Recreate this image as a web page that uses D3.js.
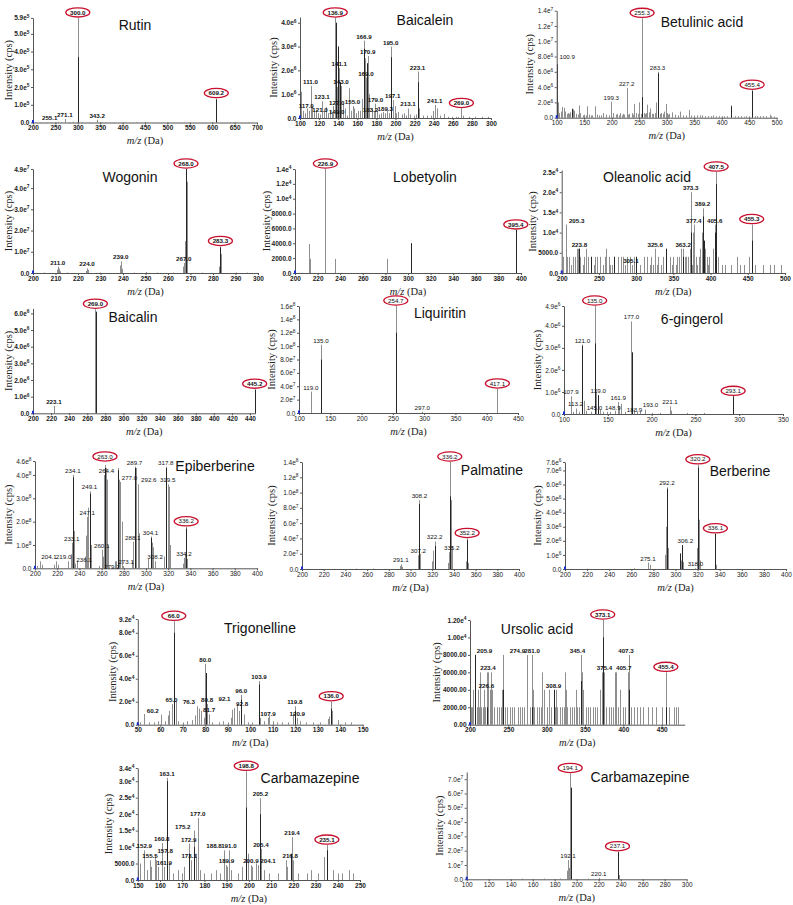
<!DOCTYPE html>
<html><head><meta charset="utf-8">
<script src="https://cdn.jsdelivr.net/npm/d3@7"></script>
<style>body{margin:0;background:#fff}svg{display:block}</style>
</head><body><svg id="c" width="793" height="905"></svg>
<script>
// ---------------- DATA ----------------
// Rutin (unit 1)
const rutinMz  = [205,215,230,240,255.1,262,271.1,280,290,300.0,310,325,343.2,360,380,405,430,455,480,520,560,609.2,640,680];
const rutinInt = [2000,1500,2000,1500,4000,2000,20000,3000,3000,590000,3000,2000,15000,2000,1500,2500,2000,1500,1500,1000,1000,135000,1000,1000];
const rutinDarkMz = [300.3,609.2];
const rutinDarkInt = [370000,130000];
const rutinLabels = [255.1,271.1,300.0,343.2,609.2];
const rutinCircled = [300.0,609.2];
const rutinXTicks = [200,250,300,350,400,450,500,550,600,650,700];
const rutinYTicks = [0,1e5,2e5,3e5,4e5,5e5,5.9e5];

// Baicalein (unit 1e6)
const baicaleinMz  = [100.9,103,105,107,109,111.0,113,115,117.0,119,121.0,123.1,125,127.0,129,131,133,135,136.9,138.0,139.0,141.1,143.0,145,147,149.0,151,153,155.0,157,159,161,163,165,166.9,168,169.0,170.9,172,175,177,179.0,181,183.2,185,187,189.3,191,193,195.0,197.1,199,201,203,207,209,211,213.1,215,219,221,223.1,225,229,233,237,239,241.1,243,247,251,255,259,263,265,269.0,271,277,283,291,297];
const baicaleinInt = [1.1,0.3,0.2,0.4,0.3,1.35,0.5,0.3,0.35,0.2,0.15,0.7,0.3,0.45,0.2,0.3,0.25,0.5,4.2,3.6,1.3,2.1,1.35,0.6,0.4,0.1,1.25,0.3,0.5,0.4,0.2,0.3,0.3,0.8,3.25,2.5,1.7,2.6,1.0,0.4,0.3,0.6,0.3,0.15,0.2,0.25,0.2,0.3,0.2,3.0,0.75,0.5,0.2,0.25,0.15,0.2,0.1,0.4,0.15,0.1,0.15,1.95,0.4,0.1,0.1,0.1,0.3,0.55,0.4,0.1,0.17,0.05,0.05,0.05,0.05,0.4,0.1,0.05,0.05,0.05,0.05];
const baicaleinDarkMz = [137.5,139.5,141.5,167.3,170.5,195.5,223.3];
const baicaleinDarkInt = [4.0,3.0,1.5,2.9,2.3,2.55,1.5];
const baicaleinLabels = [111.0,117.0,121.0,123.1,127.0,136.9,141.1,143.0,149.0,155.0,166.9,169.0,170.9,179.0,183.2,189.3,195.0,197.1,213.1,223.1,241.1,269.0];
const baicaleinCircled = [136.9,269.0];
const baicaleinXTicks = [100,120,140,160,180,200,220,240,260,280,300];
const baicaleinYTicks = [0,1e6,2e6,3e6,4e6];

// Betulinic acid (unit 1e6)
const betulinicMz  = [100.9,102,105,108,110,113,115,118,120,123,125,128,129,131,135,138,141,143,147,150,153,155,158,162,165,170,173,177,180,185,190,195,199.3,203,207,210,213,215,218,220,223,227.2,230,232,236,239,241,245,248,250,253,255.3,258,260,263,265,268,270,273,275,278,280,281,283.3,285,288,290,293,295,298,300,303,305,310,315,320,325,330,335,340,345,350,355,360,365,370,375,380,385,390,395,400,405,410,417,425,430,435,440,445,450,455.4,460,465,470,475,480,487,490,495];
const betulinicInt = [7.0,2.0,0.6,0.8,1.4,1.3,0.8,0.5,0.6,0.5,0.7,1.2,1.1,0.9,0.5,0.4,1.6,0.6,0.3,0.4,0.3,1.5,0.4,0.3,0.3,1.5,0.4,0.3,0.3,0.6,0.4,0.3,2.1,0.6,0.4,0.5,0.3,0.6,0.3,0.5,0.4,3.9,0.4,0.5,0.6,0.4,1.8,0.6,0.5,2.0,0.5,13.0,0.6,0.5,0.6,1.7,0.7,1.2,0.5,0.5,0.6,1.5,2.0,6.0,1.0,0.5,0.6,0.5,0.8,1.8,0.6,0.4,0.5,0.7,0.4,0.3,0.8,0.3,0.3,1.0,0.3,0.3,0.3,0.3,0.3,0.2,0.2,0.2,0.3,0.2,0.2,0.2,0.2,0.2,1.6,0.2,0.2,0.2,0.15,0.2,0.2,3.6,0.2,0.2,0.2,0.2,0.2,0.4,0.2,0.15];
const betulinicDarkMz = [100.9,128,255.8,283.3,417,455.4];
const betulinicDarkInt = [7.0,1.1,2.7,5.8,1.5,3.5];
const betulinicLabels = [100.9,199.3,227.2,255.3,283.3,455.4];
const betulinicCircled = [255.3,455.4];
const betulinicXTicks = [100,150,200,250,300,350,400,450,500];
const betulinicYTicks = [0,2e6,4e6,6e6,8e6,1e7,1.2e7,1.4e7];

// Wogonin (unit 1e7)
const wogoninMz  = [205,210.6,211.0,211.4,212,215,223.6,224.0,224.4,230,238.8,239.0,239.4,245,250,255,262,266.8,267.0,267.6,268.0,268.3,268.6,275,282.8,283.1,283.3,283.6,290,295];
const wogoninInt = [0.02,0.15,0.3,0.2,0.08,0.02,0.1,0.22,0.15,0.02,0.35,0.55,0.2,0.02,0.05,0.02,0.02,0.3,0.47,1.5,4.9,4.3,2.5,0.02,0.3,1.0,1.25,0.9,0.02,0.02];
const wogoninDarkMz = [268.1,283.3];
const wogoninDarkInt = [4.9,1.2];
const wogoninLabels = [211.0,224.0,239.0,267.0,268.0,283.3];
const wogoninCircled = [268.0,283.3];
const wogoninXTicks = [200,210,220,230,240,250,260,270,280,290,300];
const wogoninYTicks = [0,1e7,2e7,3e7,4e7,4.9e7];

// Lobetyolin (unit 1)
const lobetyolinMz  = [212.5,213.5,226.9,235.0,281.0,302.8,395.4];
const lobetyolinInt = [3900,1900,14000,1900,1900,4000,5800];
const lobetyolinDarkMz = [302.8,395.4];
const lobetyolinDarkInt = [4000,5800];
const lobetyolinLabels = [226.9,395.4];
const lobetyolinCircled = [226.9,395.4];
const lobetyolinXTicks = [200,220,240,260,280,300,320,340,360,380,400];
const lobetyolinYTicks = [0,2000,4000,6000,8000,1e4,1.2e4,1.4e4];

// Oleanolic acid (unit 1000)
const oleanolicMz  = [202,205.3,207,210,212,215,218,221,222,223.8,225,228,230,232,233,236,240,243,245,248,252,255,258,260,263,265,268,270,275,280,283,285,288,292,295,297,300,305.1,310,315,318,320,323,325.6,328,330,333,336,340,345,348,350,353,355,358,360,363.2,365,367,370,372,373.3,375,376,377.4,380,382,384,386,388,389.2,391,392,395,396,398,403,405.6,407.5,410,415,420,428,435,440,445,452,455.3,460,470,480,485,495];
const oleanolicInt = [4,12,4,4,2,4,4,6,6,6,4,2,4,6,2,4,4,2,4,4,4,2,4,6,4,2,2,4,4,4,4,2,4,4,2,4,4,2,4,4,2,4,2,6,2,4,2,4,6,4,2,4,2,4,4,6,6,4,4,4,6,20,2,10,12,4,2,4,6,10,16,8,6,4,2,4,6,12,25,4,2,2,2,4,2,2,4,12,2,2,2,2,2];
const oleanolicDarkMz = [223.8,240,270,300,340,363.2,373.3,389.2,391,405.6,407.5,455.3];
const oleanolicDarkInt = [6,4,4,4,6,4,10,14,8,10,22,8];
const oleanolicLabels = [205.3,223.8,305.1,325.6,363.2,373.3,377.4,389.2,405.6,407.5,455.3];
const oleanolicCircled = [407.5,455.3];
const oleanolicXTicks = [200,250,300,350,400,450,500];
const oleanolicYTicks = [0,5000,1e4,1.5e4,2e4,2.5e4];

// Baicalin (unit 1e6)
const baicalinMz  = [210,223.1,240,269.0,300,350,400,445.2];
const baicalinInt = [0.02,0.45,0.02,6.25,0.02,0.02,0.02,1.45];
const baicalinDarkMz = [269.3,445.2];
const baicalinDarkInt = [6.1,1.4];
const baicalinLabels = [223.1,269.0,445.2];
const baicalinCircled = [269.0,445.2];
const baicalinXTicks = [200,220,240,260,280,300,320,340,360,380,400,420,440];
const baicalinYTicks = [0,1e6,2e6,3e6,4e6,5e6,6e6];

// Liquiritin (unit 1e7)
const liquiritinMz  = [119.0,135.0,254.7,297.0,417.1];
const liquiritinInt = [3.2,10.2,16.0,0.2,3.6];
const liquiritinDarkMz = [135.3,254.9];
const liquiritinDarkInt = [8.0,12.0];
const liquiritinLabels = [119.0,135.0,254.7,297.0,417.1];
const liquiritinCircled = [254.7,417.1];
const liquiritinXTicks = [100,150,200,250,300,350,400,450];
const liquiritinYTicks = [0,2e7,4e7,6e7,8e7,1e8,1.2e8,1.4e8,1.6e8];

// 6-gingerol (unit 1e6)
const gingerolMz  = [107.9,110,113.2,117,121.0,122.5,125,131,135.0,136,139.0,141,145.0,148.9,152,158,161.9,163,165,170,177.0,178,180,183.9,187,193.0,200,210,221.1,222,240,260,293.1];
const gingerolInt = [0.8,0.1,0.25,0.1,3.15,0.6,0.15,0.1,4.9,1.0,0.86,0.2,0.1,0.1,0.1,0.15,0.55,0.35,0.45,0.1,4.2,2.5,0.2,0.1,0.1,0.2,0.05,0.05,0.35,0.15,0.05,0.05,0.8];
const gingerolDarkMz = [121.0,135.3,139.0,177.4,293.1];
const gingerolDarkInt = [3.1,3.2,0.85,2.8,0.8];
const gingerolLabels = [107.9,113.2,121.0,135.0,139.0,145.0,148.9,161.9,177.0,183.9,193.0,221.1,293.1];
const gingerolCircled = [135.0,293.1];
const gingerolXTicks = [100,150,200,250,300,350];
const gingerolYTicks = [0,1e6,2e6,3e6,4e6,4.9e6];

// Epiberberine (unit 1e8)
const epiberberineMz  = [202,204.1,206,217,219.0,221,230,232,233.1,234.1,235,236.1,238,245,246,247.1,248,249.1,250,258,260.1,261,262,263.0,264.4,265,266,272,273.1,274.8,276,277.0,278,279.2,287,288.1,289.7,291,292.6,293.5,302,304.1,305,306,308.2,316,317.8,319.5,321,322,333,334.2,335,336.2,337];
const epiberberineInt = [0.1,0.3,0.15,0.15,0.3,0.15,0.3,0.6,1.1,4.0,1.6,0.2,0.3,0.5,1.4,2.2,2.6,3.3,1.0,0.1,0.8,0.5,4.0,4.43,4.3,3.8,1.0,0.3,0.3,4.3,3.8,3.7,2.0,0.1,0.3,1.14,4.36,4.3,3.6,1.5,0.4,1.36,1.1,0.9,0.3,0.5,4.36,3.6,3.5,1.0,0.2,0.45,0.6,1.78,0.4];
const epiberberineDarkMz = [234.1,249.1,263.0,274.8,289.7,304.1,317.8,336.2];
const epiberberineDarkInt = [3.9,3.2,4.3,4.2,4.3,1.3,4.3,1.7];
const epiberberineLabels = [204.1,219.0,233.1,234.1,236.1,247.1,249.1,260.1,263.0,264.4,273.1,277.0,279.2,288.1,289.7,292.6,304.1,308.2,317.8,319.5,334.2,336.2];
const epiberberineCircled = [263.0,336.2];
const epiberberineXTicks = [200,220,240,260,280,300,320,340,360,380,400];
const epiberberineYTicks = [0,1e8,2e8,3e8,4e8,4.6e8];

// Palmatine (unit 1e7)
const palmatineMz  = [250,265,290.5,291.1,292,306.5,307.2,308.2,309,320,321,322.2,323,334.5,335.2,336.2,337,338,351.5,352.2,353];
const palmatineInt = [0.05,0.05,0.4,0.6,0.3,0.8,1.8,9.0,2.0,1.0,2.4,3.6,1.5,0.8,2.2,14.0,9.0,3.0,1.0,4.0,0.8];
const palmatineDarkMz = [308.2,322.2,336.4,352.2];
const palmatineDarkInt = [8.5,3.0,9.5,3.8];
const palmatineLabels = [291.1,307.2,308.2,322.2,335.2,336.2,352.2];
const palmatineCircled = [336.2,352.2];
const palmatineXTicks = [200,220,240,260,280,300,320,340,360,380,400];
const palmatineYTicks = [0,2e7,4e7,6e7,8e7,1e8,1.2e8,1.4e8];

// Berberine (unit 1e6)
const berberineMz  = [220,262,275.1,277,290.5,291.5,292.2,293,304,305,306.2,307,318.0,319.5,320.2,321,322,335.5,336.1,337];
const berberineInt = [0.02,0.05,0.45,0.3,1.0,3.0,5.8,1.5,1.1,0.6,1.7,0.5,0.05,1.5,7.4,3.5,0.6,0.5,2.5,0.3];
const berberineDarkMz = [292.4,304,306.2,320.5,336.1];
const berberineDarkInt = [5.7,1.1,1.7,7.2,2.5];
const berberineLabels = [275.1,292.2,306.2,318.0,320.2,336.1];
const berberineCircled = [320.2,336.1];
const berberineXTicks = [200,220,240,260,280,300,320,340,360,380,400];
const berberineYTicks = [0,1e6,2e6,3e6,4e6,5e6,6e6,7e6,7.6e6];

// Trigonelline (unit 1e4)
const trigonellineMz  = [51,52.6,55,57,59,60.2,62,63.5,64,65.0,66.0,66.8,68,70,72,74,75.5,76.3,77,78,79.5,80.0,80.8,81.7,83,86,88,90,91.5,92.1,92.8,94,95,96.0,97,99,101,103.9,104.5,106,107.9,108.5,110,112,114,117,119.2,119.8,120.9,122,125,128,131,134.5,135,136.0,136.5,139,142,145];
const trigonellineInt = [0.2,0.93,0.2,0.2,0.3,0.87,0.3,0.8,1.2,1.8,9.0,2.0,0.3,0.2,0.3,0.4,0.8,1.6,1.4,1.2,0.6,5.3,1.8,0.9,0.2,0.2,0.3,0.2,0.6,1.3,1.45,1.8,1.2,2.6,0.9,0.2,0.2,3.8,0.6,0.3,0.6,0.8,0.3,0.2,0.2,0.2,1.0,1.6,0.6,0.3,0.2,0.2,0.2,0.5,0.7,2.0,1.2,0.4,0.2,0.2];
const trigonellineDarkMz = [66.3,80.3,96.0,103.9,119.8,136.0];
const trigonellineDarkInt = [8.0,4.5,2.2,3.5,1.2,1.4];
const trigonellineLabels = [60.2,65.0,66.0,76.3,80.0,80.8,81.7,92.1,92.8,96.0,103.9,107.9,119.8,120.9,136.0];
const trigonellineCircled = [66.0,136.0];
const trigonellineXTicks = [50,60,70,80,90,100,110,120,130,140,150];
const trigonellineYTicks = [0,2e4,4e4,6e4,8e4,9.2e4];

// Ursolic acid (unit 1000)
const ursolicMz  = [201,203,204,205.9,207,209,210,212,213,214,217,218,219,222,223.4,224,226.6,228,229,231,235,238,241,242,243.5,245,248,252,255,258,262,265,268,271,274.9,278,281.0,282,284,287,290,293,294,297,300,303,306,308.9,311,312,314,317,320,323,324,325,327,330,333,336,338,339,342,345.4,346,347,348,351,354,357,360,363,366,369,370,372,373.1,374,375.4,378,381,384,387,389,390,391,393,395,396,399,402,405.7,406,407.3,410,414,418,422,426,432,437,442,450,455.4,459,466,469,471];
const ursolicInt = [2,2,4,8,6,2,4,2,6,2,2,4,2,6,6,4,4,6,4,2,2,2,2,4,8,2,2,2,2,2,2,2,2,2,8,2,8,4,2,2,2,2,6,4,2,4,2,4,2,4,2,2,2,2,6,4,2,2,2,2,4,2,2,8,6,4,2,2,2,2,2,2,2,2,4,6,12,4,6,2,2,2,2,6,4,6,2,4,2,2,2,6,4,8,2,2,2,2,2,2,2,2,2,6,2,2,2,2];
const ursolicDarkMz = [205.9,222,243.5,281.0,308.9,345.4,373.5,407.3,455.4];
const ursolicDarkInt = [8,2,4,2,4,5,10,4,2];
const ursolicLabels = [205.9,223.4,226.6,274.9,281.0,308.9,345.4,373.1,375.4,405.7,407.3,455.4];
const ursolicCircled = [373.1,455.4];
const ursolicXTicks = [200,250,300,350,400,450];
const ursolicYTicks = [0,2000,4000,6000,8000,1e4,1.2e4];

// Carbamazepine, left (unit 1000)
const carbaAMz  = [150,151,152.9,154,155.5,156,157.8,158,159,160.8,161.9,163.1,164,166,168,170,171,172.9,173.1,174,175.2,176,177.0,178,180,183,185,187,188.8,189.9,190,191.0,192,195,197,198.8,199.5,200.9,201.5,203,204.1,205.2,205.4,207,209,213,216.8,217,219.4,220,222,226,228,231,234,235.1,238,240,242,245,247];
const carbaAInt = [3,5,9,3,6,4,7.5,6,4,11.2,4,31,5,2,3,2,4,11,6,6,15,8,18.8,3,2,2,3,2,9,4.5,4,9,3,2,4,33,8,4.5,4,5,4.5,24.8,9.5,3,2,2,6,4,13,6,2,2,3,2,7,10.6,3,2,2,3,2];
const carbaADarkMz = [163.1,172.9,175.2,198.8,205.2,219.0,235.1];
const carbaADarkInt = [30,8,10,22,20,8,9];
const carbaALabels = [152.9,155.5,157.8,160.8,161.9,163.1,172.9,173.1,175.2,177.0,188.8,189.9,191.0,198.8,200.9,204.1,205.2,205.4,216.8,219.4,235.1];
const carbaACircled = [198.8,235.1];
const carbaAXTicks = [150,160,170,180,190,200,210,220,230,240,250];
const carbaAYTicks = [0,5000,1e4,1.5e4,2e4,2.5e4,3e4,3.4e4];

// Carbamazepine, right (unit 1e7)
const carbaBMz  = [150,170,185,191.5,192.1,193,194.1,194.6,195.2,210,220.1,237.1,238];
const carbaBInt = [0.05,0.05,0.05,0.6,1.35,0.8,7.4,4.0,6.4,0.05,0.1,1.93,0.3];
const carbaBDarkMz = [194.9,237.2];
const carbaBDarkInt = [6.4,1.9];
const carbaBLabels = [192.1,194.1,220.1,237.1];
const carbaBCircled = [194.1,237.1];
const carbaBXTicks = [100,120,140,160,180,200,220,240,260,280,300];
const carbaBYTicks = [0,1e7,2e7,3e7,4e7,5e7,6e7,7e7];

// ---------------- LAYOUT ----------------
const panels = [
 {t:"Rutin", mz:rutinMz, iv:rutinInt, u:1, dm:rutinDarkMz, di:rutinDarkInt, lb:rutinLabels, ci:rutinCircled, xt:rutinXTicks, yt:rutinYTicks,
  xd:[200,700], x0:33, x1:257, yb:122.5, ytop:5.9e5, ypx:17.9, tx:135, ty:25, ylx:8, bold:true, dec:1,
  off:{"255.1":[-8,0]}},
 {t:"Baicalein", mz:baicaleinMz, iv:baicaleinInt, u:1e6, dm:baicaleinDarkMz, di:baicaleinDarkInt, lb:baicaleinLabels, ci:baicaleinCircled, xt:baicaleinXTicks, yt:baicaleinYTicks,
  xd:[100,300], x0:300, x1:491, yb:118, ytop:4.24e6, ypx:17, tx:425, ty:20, ylx:273, bold:true, dec:1,
  off:{"117.0":[-10,0],"127.0":[11,0],"149.0":[-10,0],"183.2":[-9,0]}},
 {t:"Betulinic acid", mz:betulinicMz, iv:betulinicInt, u:1e6, dm:betulinicDarkMz, di:betulinicDarkInt, lb:betulinicLabels, ci:betulinicCircled, xt:betulinicXTicks, yt:betulinicYTicks,
  xd:[100,500], x0:556.7, x1:776.7, yb:117.7, ytop:1.4e7, ypx:10.7, tx:702, ty:22, ylx:529, bold:false, dec:1,
  off:{"100.9":[10,-3]}},
 {t:"Wogonin", mz:wogoninMz, iv:wogoninInt, u:1e7, dm:wogoninDarkMz, di:wogoninDarkInt, lb:wogoninLabels, ci:wogoninCircled, xt:wogoninXTicks, yt:wogoninYTicks,
  xd:[200,300], x0:33, x1:258, yb:273, ytop:4.9e7, ypx:169, tx:130, ty:177, ylx:8, bold:true, dec:1, off:{}},
 {t:"Lobetyolin", mz:lobetyolinMz, iv:lobetyolinInt, u:1, dm:lobetyolinDarkMz, di:lobetyolinDarkInt, lb:lobetyolinLabels, ci:lobetyolinCircled, xt:lobetyolinXTicks, yt:lobetyolinYTicks,
  xd:[200,400], x0:295, x1:521, yb:273, ytop:1.4e4, ypx:169, tx:425, ty:177, ylx:266, bold:true, dec:1, off:{}},
 {t:"Oleanolic acid", mz:oleanolicMz, iv:oleanolicInt, u:1000, dm:oleanolicDarkMz, di:oleanolicDarkInt, lb:oleanolicLabels, ci:oleanolicCircled, xt:oleanolicXTicks, yt:oleanolicYTicks,
  xd:[200,500], x0:561.7, x1:785, yb:273, ytop:2.55e4, ypx:170, tx:647, ty:177, ylx:532, bold:true, dec:1,
  off:{"205.3":[11,0],"305.1":[-9,0]}},
 {t:"Baicalin", mz:baicalinMz, iv:baicalinInt, u:1e6, dm:baicalinDarkMz, di:baicalinDarkInt, lb:baicalinLabels, ci:baicalinCircled, xt:baicalinXTicks, yt:baicalinYTicks,
  xd:[200,446], x0:33, x1:255.4, yb:413.3, ytop:6.3e6, ypx:308.4, tx:133, ty:317, ylx:8, bold:true, dec:1, off:{}},
 {t:"Liquiritin", mz:liquiritinMz, iv:liquiritinInt, u:1e7, dm:liquiritinDarkMz, di:liquiritinDarkInt, lb:liquiritinLabels, ci:liquiritinCircled, xt:liquiritinXTicks, yt:liquiritinYTicks,
  xd:[100,450], x0:299, x1:518, yb:413, ytop:1.6e8, ypx:306, tx:440, ty:313, ylx:271, bold:false, dec:1, off:{}},
 {t:"6-gingerol", mz:gingerolMz, iv:gingerolInt, u:1e6, dm:gingerolDarkMz, di:gingerolDarkInt, lb:gingerolLabels, ci:gingerolCircled, xt:gingerolXTicks, yt:gingerolYTicks,
  xd:[100,350], x0:564, x1:783, yb:414, ytop:4.9e6, ypx:306, tx:692, ty:319, ylx:537, bold:false, dec:1,
  off:{"145.0":[-9,0],"148.9":[6,0],"183.9":[-3,2],"193.0":[5,-1]}},
 {t:"Epiberberine", mz:epiberberineMz, iv:epiberberineInt, u:1e8, dm:epiberberineDarkMz, di:epiberberineDarkInt, lb:epiberberineLabels, ci:epiberberineCircled, xt:epiberberineXTicks, yt:epiberberineYTicks,
  xd:[200,400], x0:35, x1:257, yb:568.3, ytop:4.6e8, ypx:461, tx:215, ty:466, ylx:8, bold:false, dec:1,
  off:{"204.1":[9.5,0],"219.0":[7.5,0],"236.1":[9,0],"263.0":[0,-3],"264.4":[0,7],"273.1":[10,5],"279.2":[-11,5],"277.0":[9,0],"292.6":[11,0]}},
 {t:"Palmatine", mz:palmatineMz, iv:palmatineInt, u:1e7, dm:palmatineDarkMz, di:palmatineDarkInt, lb:palmatineLabels, ci:palmatineCircled, xt:palmatineXTicks, yt:palmatineYTicks,
  xd:[200,400], x0:302, x1:519, yb:569, ytop:1.4e8, ypx:462, tx:492, ty:470, ylx:271, bold:false, dec:1,
  off:{"335.2":[3,0]}},
 {t:"Berberine", mz:berberineMz, iv:berberineInt, u:1e6, dm:berberineDarkMz, di:berberineDarkInt, lb:berberineLabels, ci:berberineCircled, xt:berberineXTicks, yt:berberineYTicks,
  xd:[200,400], x0:565, x1:786, yb:569, ytop:7.6e6, ypx:462, tx:740, ty:471, ylx:537, bold:false, dec:1,
  off:{"306.2":[3,0]}},
 {t:"Trigonelline", mz:trigonellineMz, iv:trigonellineInt, u:1e4, dm:trigonellineDarkMz, di:trigonellineDarkInt, lb:trigonellineLabels, ci:trigonellineCircled, xt:trigonellineXTicks, yt:trigonellineYTicks,
  xd:[50,150], x0:137.8, x1:362.7, yb:724.7, ytop:9.2e4, ypx:619, tx:260, ty:628, ylx:112, bold:true, dec:1,
  off:{"60.2":[-8,0],"76.3":[-8,0],"92.1":[-8,-7],"92.8":[8,0]}},
 {t:"Ursolic acid", mz:ursolicMz, iv:ursolicInt, u:1000, dm:ursolicDarkMz, di:ursolicDarkInt, lb:ursolicLabels, ci:ursolicCircled, xt:ursolicXTicks, yt:ursolicYTicks,
  xd:[200,480], x0:470, x1:684.7, yb:724.7, ytop:1.2e4, ypx:620, tx:537, ty:629, ylx:436, bold:true, dec:2,
  off:{"205.9":[10,0],"226.6":[-4,0],"274.9":[-10,0],"345.4":[-4,0],"405.7":[-4,0],"407.3":[-3,0]}},
 {t:"Carbamazepine", mz:carbaAMz, iv:carbaAInt, u:1000, dm:carbaADarkMz, di:carbaADarkInt, lb:carbaALabels, ci:carbaACircled, xt:carbaAXTicks, yt:carbaAYTicks,
  xd:[150,250], x0:137.8, x1:360, yb:880, ytop:3.4e4, ypx:768, tx:310, ty:778, ylx:108, bold:true, dec:1,
  off:{"157.8":[10,0],"175.2":[-11,0],"188.8":[-10,0],"204.1":[10,0],"216.8":[4,0]}},
 {t:"Carbamazepine", mz:carbaBMz, iv:carbaBInt, u:1e7, dm:carbaBDarkMz, di:carbaBDarkInt, lb:carbaBLabels, ci:carbaBCircled, xt:carbaBXTicks, yt:carbaBYTicks,
  xd:[100,300], x0:466.7, x1:686.7, yb:879.3, ytop:7.5e7, ypx:772, tx:640, ty:777, ylx:439, bold:false, dec:1, off:{}}
];

// ---------------- DRAW ----------------
const svg = d3.select("#c");
svg.append("rect").attr("width",793).attr("height",905).attr("fill","#fff");
const SANS = "'Liberation Sans', Arial, sans-serif";
const SERIF = "'Liberation Serif', 'Times New Roman', serif";
const TICKFS = 6.5, LABFS = 6.2;

function splitNum(v, dec){
  if (v === 0) return [(0).toFixed(dec), null];
  if (v < 1e4) return [v.toFixed(dec), null];
  const e = Math.floor(Math.log10(v) + 1e-9);
  const m = v / Math.pow(10, e);
  return [m.toFixed(dec) + "e", String(e)];
}

function drawPanel(p){
  const g = svg.append("g");
  const wt = p.bold ? "bold" : "normal";
  const x = d3.scaleLinear().domain(p.xd).range([p.x0, p.x1]);
  const y = d3.scaleLinear().domain([0, p.ytop]).range([p.yb, p.ypx]);
  const px = v => Math.round(x(v)) + 0.5;

  const main = p.mz.map((m,i)=>({m, v:p.iv[i]*p.u}));
  const dark = p.dm.map((m,i)=>({m, v:p.di[i]*p.u}));

  g.append("g").selectAll("line").data(main).join("line")
    .attr("x1", d=>px(d.m)).attr("x2", d=>px(d.m))
    .attr("y1", y(0)).attr("y2", d=>y(d.v))
    .attr("stroke", "#8f8f8f").attr("stroke-width", 1);
  g.append("g").selectAll("line").data(dark).join("line")
    .attr("x1", d=>px(d.m)).attr("x2", d=>px(d.m))
    .attr("y1", y(0)).attr("y2", d=>y(d.v))
    .attr("stroke", "#262626").attr("stroke-width", 1);

  // axes
  const xa = g.append("g").attr("transform", `translate(0,${p.yb})`)
    .call(d3.axisBottom(x).tickValues(p.xt).tickSize(2).tickSizeOuter(0).tickPadding(1).tickFormat(d=>String(d)));
  xa.select(".domain").attr("stroke","#555");
  xa.selectAll(".tick line").attr("stroke","#555");
  xa.selectAll("text").attr("font-size",TICKFS).attr("font-weight",wt).attr("font-family",SANS).attr("fill","#222");

  const ya = g.append("g").attr("transform", `translate(${p.x0},0)`)
    .call(d3.axisLeft(y).tickValues(p.yt).tickSize(2).tickSizeOuter(0).tickPadding(1.5).tickFormat(""));
  ya.select(".domain").attr("stroke","#555");
  ya.selectAll(".tick line").attr("stroke","#555");
  ya.selectAll(".tick text").each(function(d){
    const t = d3.select(this).attr("font-size",TICKFS).attr("font-weight",wt).attr("font-family",SANS).attr("fill","#222");
    const [a,b] = splitNum(d, p.dec);
    t.text(a);
    if (b !== null) t.append("tspan").attr("font-size",4.8).attr("dy",-2.5).text(b);
  });

  // origin marker
  g.append("rect").attr("x", p.x0-1).attr("y", p.yb-2.5).attr("width",2).attr("height",3).attr("fill","#1a2cd0");

  // peak labels
  const heightOf = m => {
    let h = 0;
    main.concat(dark).forEach(d => { if (Math.abs(d.m - m) < 0.001) h = Math.max(h, d.v); });
    return h;
  };
  const lab = p.lb.map(m => {
    const k = m.toFixed(1);
    const o = p.off[k] || [0,0];
    return {m, k, v:heightOf(m), c:p.ci.includes(m), dx:o[0], dy:o[1]};
  });
  const lg = g.append("g");
  lg.selectAll("ellipse").data(lab.filter(d=>d.c)).join("ellipse")
    .attr("cx", d=>x(d.m)+d.dx).attr("cy", d=>y(d.v)-5.5+d.dy)
    .attr("rx", 12).attr("ry", 4.6)
    .attr("fill","#fff").attr("stroke","#c8102e").attr("stroke-width",1.3);
  lg.selectAll("text").data(lab).join("text")
    .attr("x", d=>x(d.m)+d.dx).attr("y", d=>y(d.v) - (d.c ? 3.4 : 2) + d.dy)
    .attr("text-anchor","middle")
    .attr("font-size",LABFS).attr("font-weight",wt).attr("font-family",SANS).attr("fill","#111")
    .text(d=>d.k);

  // title
  g.append("text").attr("x", p.tx).attr("y", p.ty).attr("text-anchor","middle")
    .attr("dominant-baseline","central").attr("font-family",SANS).attr("font-size",14).attr("fill","#111").text(p.t);

  // axis titles
  const xl = g.append("text").attr("x", (p.x0+p.x1)/2).attr("y", p.yb+21.5)
    .attr("text-anchor","middle").attr("font-family",SERIF).attr("font-size",10.5).attr("fill","#222");
  xl.append("tspan").attr("font-style","italic").text("m/z");
  xl.append("tspan").text(" (Da)");

  g.append("text").attr("transform", `translate(${p.ylx},${(p.yb+p.ypx)/2}) rotate(-90)`)
    .attr("text-anchor","middle").attr("dominant-baseline","central")
    .attr("font-family",SERIF).attr("font-size",10.5).attr("fill","#222").text("Intensity (cps)");
}

panels.forEach(drawPanel);
</script></body></html>
